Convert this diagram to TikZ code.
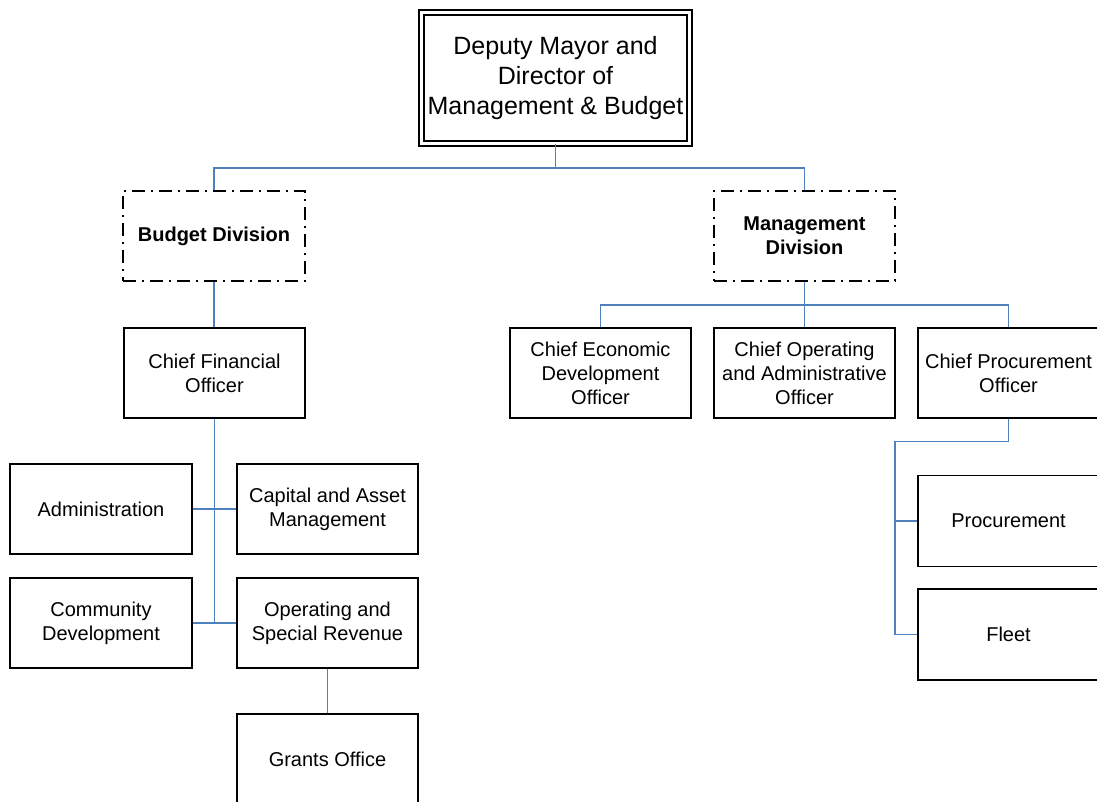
\documentclass[tikz,border=0pt]{standalone}
\usepackage{fontspec}
\setmainfont{Liberation Sans}
\begin{document}
\begin{tikzpicture}[x=1pt,y=-1pt,
  box/.style={draw=black,line width=1.5pt,rectangle,minimum width=181pt,minimum height=90pt,
    inner sep=0pt,align=center,font=\fontsize{20}{24}\selectfont},
  divbox/.style={box,line width=1.6pt,dash pattern=on 13pt off 6pt on 2pt off 6pt,
    font=\fontsize{20}{24}\selectfont\bfseries},
  topbox/.style={draw=black,line width=1.4pt,double,double distance=3.4pt,rectangle,
    minimum width=268pt,minimum height=131pt,inner sep=0pt,align=center,
    font=\fontsize{25}{30}\selectfont},
  conn/.style={draw={rgb,255:red,79;green,129;blue,189},line width=1.8pt}]
\useasboundingbox (0,0) rectangle (1097,801);
\clip (0,0) rectangle (1097,801);
\fill[white] (0,0) rectangle (1097,801);

% head of the department
\node[topbox] (top) at (555.5,78) {Deputy Mayor and\\Director of\\Management \& Budget};

% divisions
\node[divbox,minimum width=182pt] (bud) at (214,236) {Budget Division};
\node[divbox] (mgmt) at (804.5,236) {Management\\Division};

% chief officers
\node[box] (cfo) at (214.5,373) {Chief Financial\\Officer};
\node[box] (ceo) at (600.5,373) {Chief Economic\\Development\\Officer};
\node[box] (coo) at (804.5,373) {Chief Operating\\and Administrative\\Officer};
\node[box] (cpo) at (1008.5,373) {Chief Procurement\\Officer};

% budget units
\node[box,minimum width=182pt] (adm) at (101,509) {Administration};
\node[box] (cap) at (327.5,509) {Capital and Asset\\Management};
\node[box,minimum width=182pt] (com) at (101,623) {Community\\Development};
\node[box] (ops) at (327.5,623) {Operating and\\Special Revenue};
\node[box] (grants) at (327.5,759) {Grants Office};

% procurement units
\node[box,minimum height=91pt] (proc) at (1008.5,521) {Procurement};
\node[box,minimum height=91pt] (fleet) at (1008.5,634.5) {Fleet};

% bus points
\coordinate (tbus) at (555.5,168);
\coordinate (mbus) at (804.5,305);
\coordinate (pv) at (895,441.5);

% connectors
\draw[conn] (top.south) -- (tbus);
\draw[conn] (bud.north) |- (tbus) -| (mgmt.north);
\draw[conn] (bud.south) -- (bud.south |- cfo.north);
\draw[conn] (mgmt.south) -- (coo.north);
\draw[conn] (ceo.north) |- (mbus) -| (cpo.north);
\draw[conn] (cfo.south) -- (cfo.south |- com.east);
\draw[conn] (adm.east) -- (cap.west);
\draw[conn] (com.east) -- (ops.west);
\draw[conn] (ops.south) -- (grants.north);
\draw[conn] (cpo.south) |- (pv) -- (pv |- fleet.west) -- (fleet.west);
\draw[conn] (pv |- proc.west) -- (proc.west);
\end{tikzpicture}
\end{document}
